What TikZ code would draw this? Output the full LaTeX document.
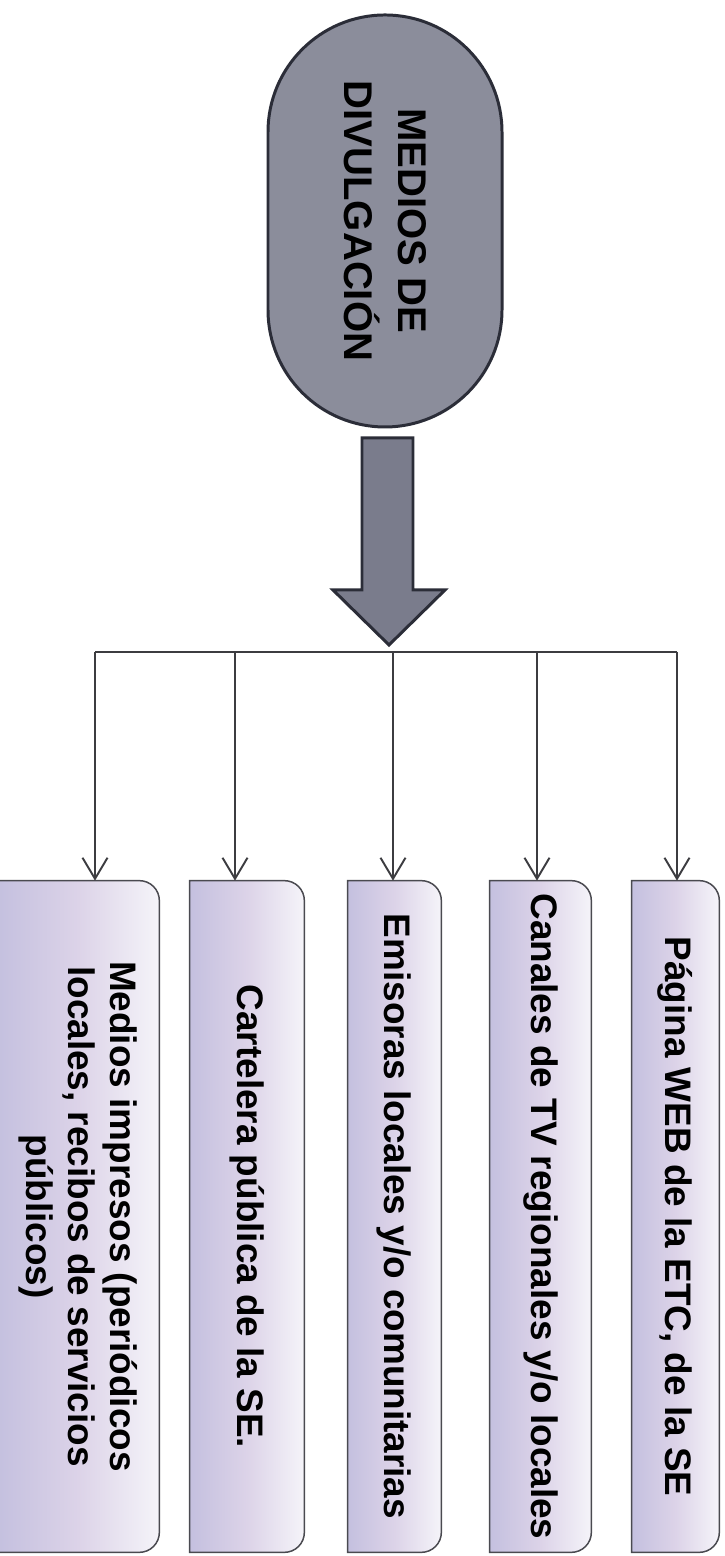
\documentclass[tikz,border=0pt]{standalone}
\usepackage{fontspec}
\setmainfont{Liberation Sans}
\usetikzlibrary{shapes.misc,arrows.meta,backgrounds}
\definecolor{grisTitulo}{HTML}{8B8D9B}
\definecolor{bordeTitulo}{HTML}{2B2D38}
\definecolor{grisFlecha}{HTML}{7A7C8C}
\definecolor{lilaCaja}{HTML}{C4C0DF}
\definecolor{rosaCaja}{HTML}{DCD3E8}
\definecolor{blancoCaja}{HTML}{F5F4F9}
\definecolor{bordeCaja}{HTML}{4A4A50}
\definecolor{lineaGris}{HTML}{3C3C40}
\tikzstyle{tituloStyle}=[shape = rounded rectangle, rotate = -90, minimum width = 8.24cm, minimum height = 4.68cm, inner sep = 0pt, draw = bordeTitulo, line width = 1.7pt, fill = grisTitulo, align = center, font = \bfseries\fontsize{22.8}{30.7}\selectfont]
\tikzstyle{medioStyle}=[shape = rectangle, rotate = -90, minimum width = 13.42cm, inner sep = 0pt, align = center, font = \bfseries\fontsize{21}{23.8}\selectfont]
\tikzstyle{cajaStyle}=[draw = bordeCaja, line width = 0.85pt, left color = lilaCaja, right color = blancoCaja, middle color = rosaCaja]
\tikzstyle{ramaStyle}=[draw = lineaGris, line width = 1.1pt]
\tikzstyle{flechaStyle}=[draw = bordeTitulo, line width = 1.7pt, fill = grisFlecha]
\begin{document}
\begin{tikzpicture}
\useasboundingbox (0,0) rectangle (14.5,31.12);
\node[tituloStyle] (titulo) at (7.70,26.70) {MEDIOS DE\\DIVULGACIÓN};
\draw[flechaStyle] (7.24,22.36) -- (8.26,22.36) -- (8.26,19.32) -- (8.90,19.32) -- (7.78,18.22) -- (6.66,19.32) -- (7.24,19.32) -- cycle;
\node[medioStyle, minimum height = 3.23cm] (m1) at (1.565,6.79) {Medios impresos (periódicos\\locales, recibos de servicios\\públicos)};
\node[medioStyle, minimum height = 2.28cm] (m2) at (4.94,6.79) {Cartelera pública de la SE.};
\node[medioStyle, minimum height = 1.86cm] (m3) at (7.89,6.79) {Emisoras locales y/o comunitarias};
\node[medioStyle, minimum height = 2.02cm] (m4) at (10.81,6.79) {Canales de TV regionales y/o locales};
\node[medioStyle, minimum height = 1.74cm] (m5) at (13.51,6.79) {Página WEB de la ETC, de la SE};
\begin{scope}[on background layer]
\foreach \m in {m1,m2,m3,m4,m5}
  \draw[cajaStyle] (\m.south east) -- (\m.south west) -- ([xshift=-0.4cm]\m.north west) arc[start angle = 90, end angle = 0, radius = 0.4cm] -- ([yshift=0.4cm]\m.north east) arc[start angle = 0, end angle = -90, radius = 0.4cm] -- cycle;
\end{scope}
\coordinate (r1) at (1.90,18.08);
\coordinate (r2) at (4.70,18.08);
\coordinate (r3) at (7.86,18.08);
\coordinate (r4) at (10.74,18.08);
\coordinate (r5) at (13.54,18.08);
\draw[ramaStyle] (r1) -- (r5);
\draw[ramaStyle, -{Straight Barb[length = 0.42cm, width = 0.5cm]}] (r1) -- (r1 |- m1.west);
\draw[ramaStyle, -{Straight Barb[length = 0.42cm, width = 0.5cm]}] (r2) -- (r2 |- m2.west);
\draw[ramaStyle, -{Straight Barb[length = 0.42cm, width = 0.5cm]}] (r3) -- (r3 |- m3.west);
\draw[ramaStyle, -{Straight Barb[length = 0.42cm, width = 0.5cm]}] (r4) -- (r4 |- m4.west);
\draw[ramaStyle, -{Straight Barb[length = 0.42cm, width = 0.5cm]}] (r5) -- (r5 |- m5.west);
\end{tikzpicture}
\end{document}
